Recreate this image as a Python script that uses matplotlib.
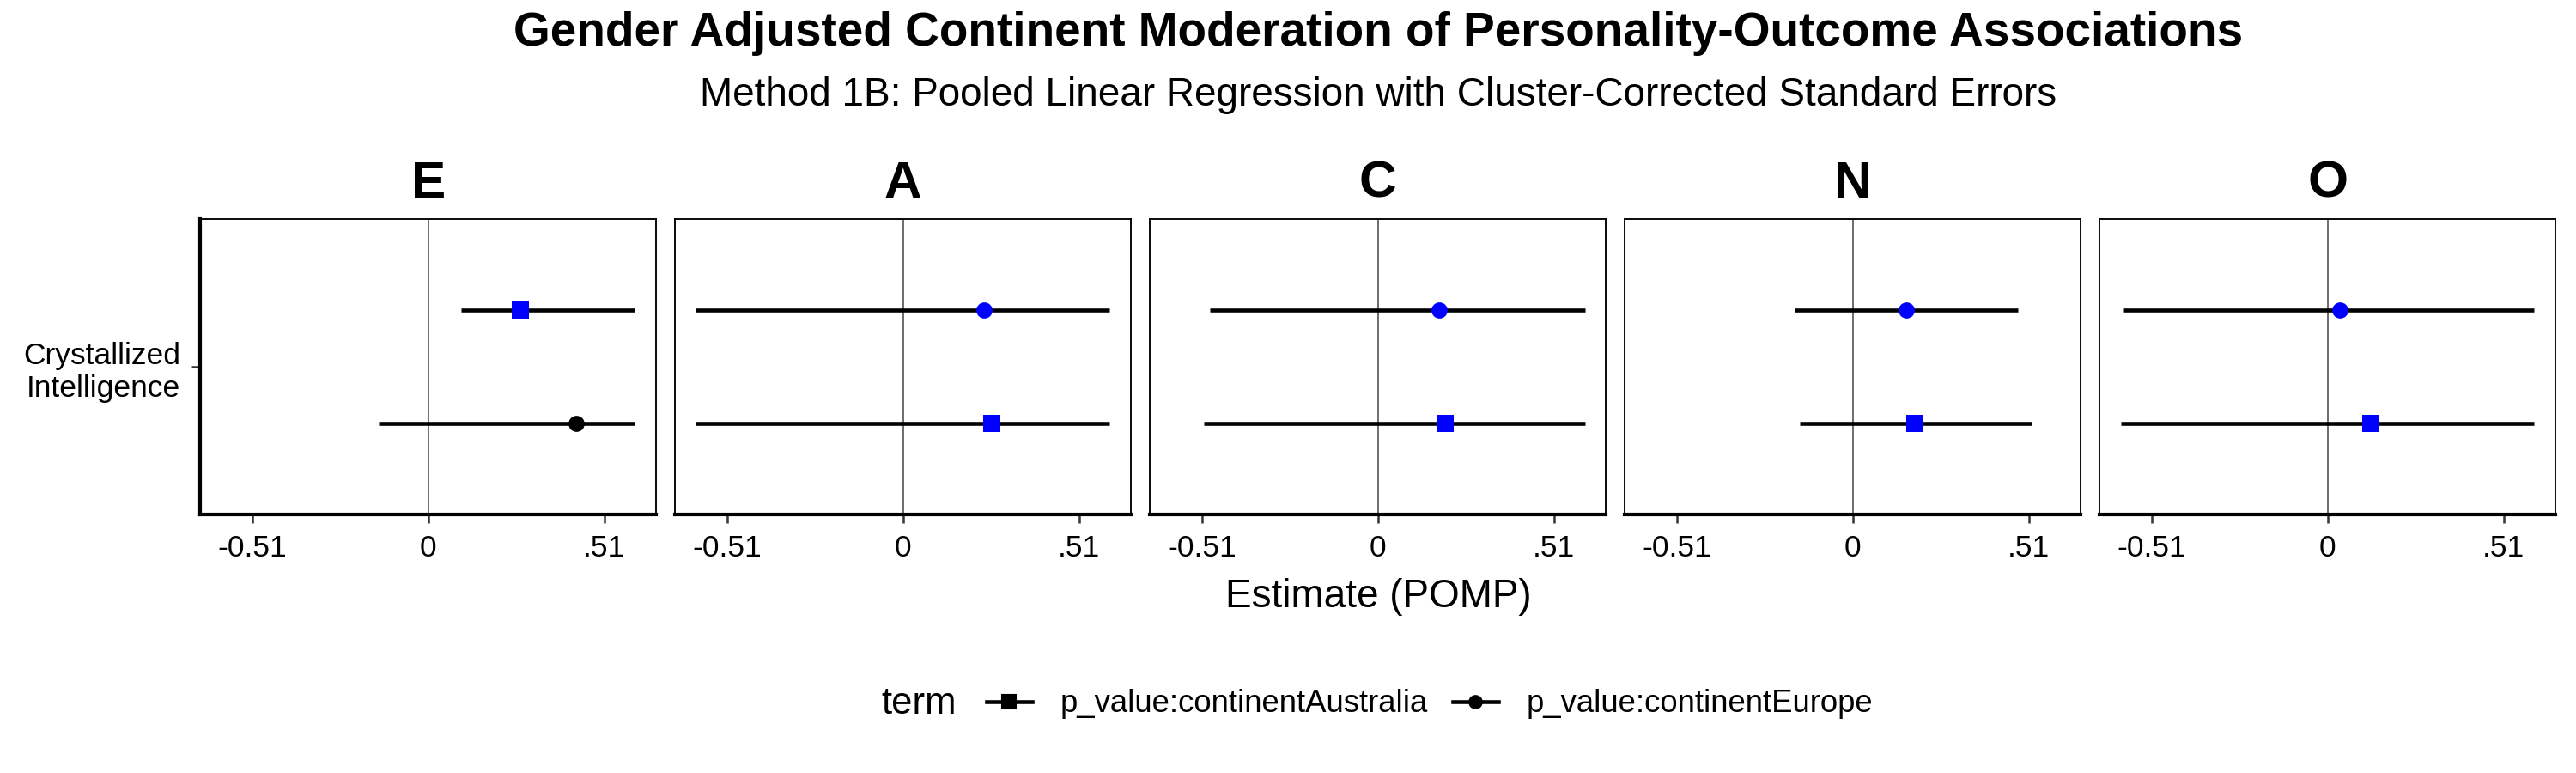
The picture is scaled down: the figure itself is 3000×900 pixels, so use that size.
import matplotlib
matplotlib.use('Agg')
import matplotlib.pyplot as plt
from matplotlib.lines import Line2D

plt.rcParams['font.family'] = ['Liberation Sans', 'DejaVu Sans']

# data
traits = ['E', 'A', 'C', 'N', 'O']
terms = ['p_value:continentAustralia', 'p_value:continentEurope']
outcome = 'Crystallized\nIntelligence'

est_aus = [0.266, 0.256, 0.194, 0.181, 0.126]
lo_aus = [0.094, -0.602, -0.505, -0.154, -0.599]
hi_aus = [0.597, 0.598, 0.599, 0.517, 0.599]
sig_aus = [True, True, True, True, True]

est_eur = [0.428, 0.235, 0.178, 0.154, 0.036]
lo_eur = [-0.143, -0.602, -0.486, -0.168, -0.590]
hi_eur = [0.597, 0.598, 0.599, 0.478, 0.599]
sig_eur = [False, True, True, True, True]

# which term sits on the upper row in each facet
upper_term = ['p_value:continentAustralia', 'p_value:continentEurope',
              'p_value:continentEurope', 'p_value:continentEurope',
              'p_value:continentEurope']

ticks = [-0.51, 0, 0.51]
tick_labels = ['-0.51', '0', '.51']

fig, axes = plt.subplots(1, 5, figsize=(20, 6), dpi=150, sharey=True)
fig.subplots_adjust(left=0.0778, right=0.992, bottom=0.334, top=0.717, wspace=0.042)

for i, ax in enumerate(axes):
    ax.axvline(0, color='#666666', lw=0.9, zorder=1)
    rows = [
        (terms[0], est_aus[i], lo_aus[i], hi_aus[i], sig_aus[i], 's', 10),
        (terms[1], est_eur[i], lo_eur[i], hi_eur[i], sig_eur[i], 'o', 9),
    ]
    for term, est, lo, hi, sig, mk, ms in rows:
        y = 1 + 0.23 if term == upper_term[i] else 1 - 0.23
        ax.plot([lo, hi], [y, y], color='black', lw=2.2, solid_capstyle='butt', zorder=2)
        ax.plot(est, y, marker=mk, ms=ms, color='blue' if sig else 'black',
                mec='none', zorder=3)
    ax.set_xlim(-0.66, 0.66)
    ax.set_ylim(0.4, 1.6)
    ax.set_xticks(ticks)
    ax.set_xticklabels(tick_labels, fontsize=17)
    ax.set_yticks([1])
    ax.set_yticklabels([outcome], fontsize=17)
    ax.tick_params(axis='both', length=5, width=1.2, color='#333333', pad=6)
    ax.set_title(traits[i], fontsize=29, fontweight='bold', pad=12)
    for s in ['top', 'right', 'left']:
        ax.spines[s].set_linewidth(0.9)
    ax.spines['bottom'].set_linewidth(2.0)
    if i == 0:
        ax.spines['left'].set_linewidth(2.0)
    else:
        ax.tick_params(axis='y', left=False, labelleft=False)

fig.text(0.535, 0.228, 'Estimate (POMP)', ha='center', va='center', fontsize=22)
fig.text(0.535, 0.957, 'Gender Adjusted Continent Moderation of Personality-Outcome Associations',
         ha='center', va='center', fontsize=26.4, fontweight='bold')
fig.text(0.535, 0.877, 'Method 1B: Pooled Linear Regression with Cluster-Corrected Standard Errors',
         ha='center', va='center', fontsize=22)

# legend with title on the left, like ggplot
fig.text(0.342, 0.089, 'term', ha='left', va='center', fontsize=21)
handles = [Line2D([], [], color='black', lw=2.2, marker='s', ms=8),
           Line2D([], [], color='black', lw=2.2, marker='o', ms=7)]
fig.legend(handles, terms, loc='center left', bbox_to_anchor=(0.372, 0.089), ncol=2,
           frameon=False, fontsize=17.5, handlelength=1.45, columnspacing=0.8,
           handletextpad=0.9)

fig.savefig('out.png', dpi=150, facecolor='white')
